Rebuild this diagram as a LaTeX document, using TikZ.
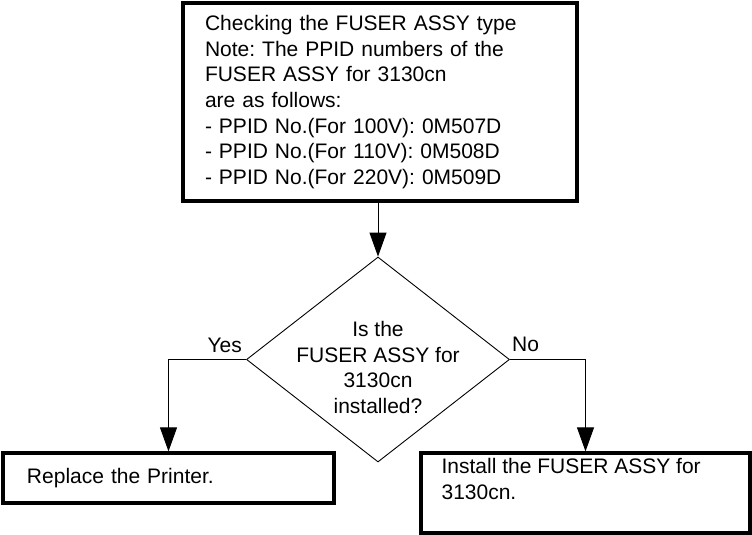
\documentclass[tikz,border=0pt]{standalone}
\usepackage{fontspec}
\setmainfont{Liberation Sans}
\usetikzlibrary{shapes.geometric, arrows.meta}
\frenchspacing

\begin{document}
\begin{tikzpicture}[x=1pt, y=-1pt,
		every node/.style={font=\fontsize{21}{25.7}\selectfont},
		box/.style={draw, rectangle, line width=3.2pt, inner ysep=0pt},
		decision/.style={draw, diamond, line width=0.9pt, inner sep=0pt,
			minimum width=263pt, minimum height=205pt},
		flow/.style={line width=0.9pt, -{Triangle[length=24pt, width=17pt]}}]
			\useasboundingbox (0,0) rectangle (752,535);
			% Checking step
			\node[box, minimum width=394pt, minimum height=198pt, inner xsep=22pt,
				text width=350pt, align=left] (fuser) at (380,102)
				{Checking the FUSER ASSY type\\
				 Note: The PPID numbers of the\\
				 FUSER ASSY for 3130cn\\
				 are as follows:\\
				 - PPID No.(For 100V): 0M507D\\
				 - PPID No.(For 110V): 0M508D\\
				 - PPID No.(For 220V): 0M509D};
			% Decision
			\node[decision] (check) at (378,359.5) {};
			\node[align=center, inner sep=0pt] (checktxt) at ([yshift=-8pt]check.center)
				{Is the\\FUSER ASSY for\\3130cn\\installed?};
			% Results
			\node[box, minimum width=331pt, minimum height=50pt, inner xsep=24pt,
				text width=283pt, align=left] (replace) at (168.5,478)
				{Replace the Printer.};
			\node[box, minimum width=329pt, minimum height=80pt] (install) at (585.5,493) {};
			\node[anchor=north west, align=left, inner sep=0pt] (installtxt)
				at ([xshift=22pt, yshift=-6.5pt]install.north west)
				{Install the FUSER ASSY for\\3130cn.};
			% Connectors
			\draw[flow] (fuser.south -| check.north) -- (check.north);
			\draw[flow] (check.west) -| (replace.north);
			\draw[flow] (check.east) -| (install.north);
			% Branch labels
			\node[anchor=base east, inner sep=0pt] (yes) at (242,352.5) {Yes};
			\node[anchor=base west, inner sep=0pt] (no) at (512,351) {No};
		\end{tikzpicture}
\end{document}
